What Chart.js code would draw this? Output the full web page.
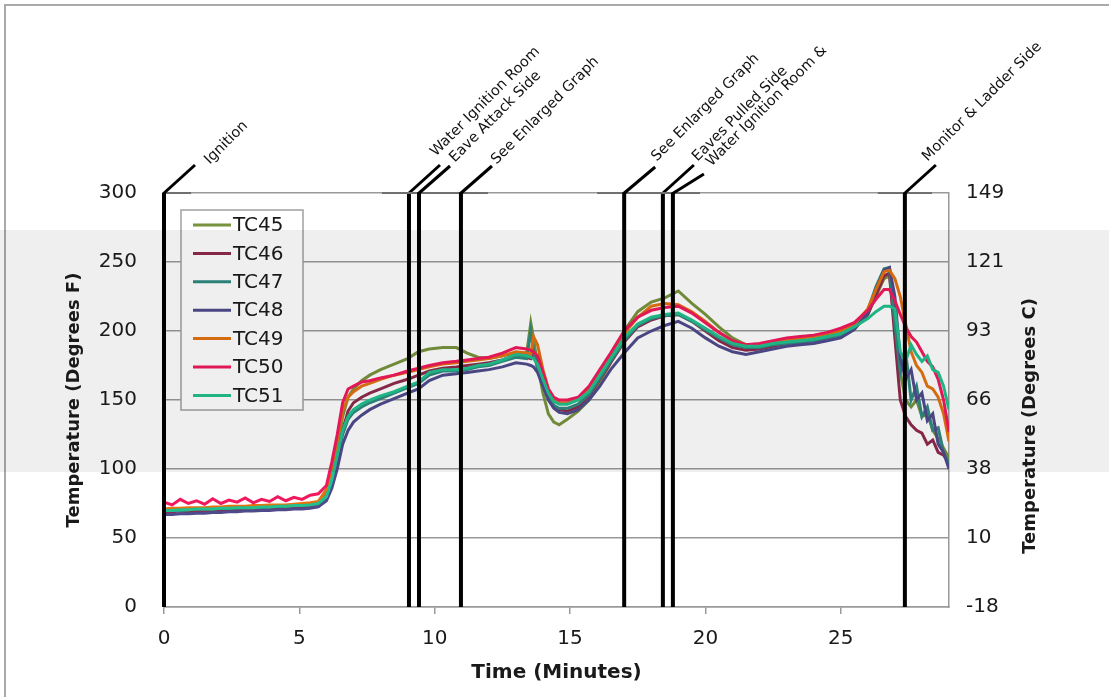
<!DOCTYPE html>
<html><head><meta charset="utf-8">
<script src="https://cdn.jsdelivr.net/npm/chart.js@4.4.0/dist/chart.umd.min.js"></script>
<style>html,body{margin:0;padding:0;background:#fff;overflow:hidden}#wrap{width:1109px;height:697px;position:relative}</style>
</head><body><div id="wrap"><canvas id="c" width="1109" height="697"></canvas></div>
<script>
// ---- data ----
const minutes = [
  0,0.3,0.6,0.9,1.2,1.5,1.8,2.1,2.4,2.7,3.0,3.3,3.6,3.9,4.2,4.5,4.8,5.1,5.4,5.7,
  6.0,6.2,6.4,6.6,6.8,7.0,7.3,7.6,8.0,8.5,
  9.0,9.4,9.8,10.3,10.8,11.2,11.6,12.0,12.5,13.0,
  13.4,13.55,13.65,13.8,14.0,14.2,14.4,14.6,14.9,15.3,
  15.7,16.1,16.5,17.0,17.5,18.0,18.5,19.0,19.5,20.0,
  20.5,21.0,21.5,22.0,22.5,23.0,23.5,24.0,24.5,25.0,
  25.5,26.0,26.3,26.6,26.8,27.0,27.2,27.4,27.6,27.8,
  28.0,28.2,28.4,28.6,28.8,29.0
];
const tc45 = [
  70,70,70.5,70,71,71,70.5,71,71.5,71,72,72,71.5,72,72.5,72,73,73,73.5,74,
  82,95,115,138,152,158,164,168,172,176,
  180,185,187,188,188,184,181,180,182,184,
  184,206,195,175,155,140,134,132,136,142,
  150,163,177,200,214,221,224,229,220,212,
  203,195,190,189,190,192,193,194,196,198,
  203,212,225,238,240,205,170,150,145,150,
  138,140,128,122,115,108
];
const tc46 = [
  69,69,69.5,69,70,70,69.5,70,70.5,70,71,71,70.5,71,71.5,71,72,72,72.5,73,
  79,90,108,128,142,148,152,155,158,162,
  165,168,171,173,174,175,176,177,179,182,
  181,180,185,175,163,152,146,143,142,145,
  153,165,177,192,203,208,211,212,207,200,
  193,188,186,187,189,191,192,193,195,197,
  202,212,226,240,242,195,150,138,132,128,
  126,118,121,112,110,104
];
const tc47 = [
  70,70,70,70.5,71,71,71,71.5,71.5,72,72,72,72.5,72.5,73,73,73.5,73.5,74,75,
  79,90,107,125,136,141,145,148,151,155,
  159,162,168,171,171,172,174,175,178,181,
  180,200,186,172,162,152,146,144,144,147,
  154,166,178,193,204,209,211,212,207,201,
  195,190,188,188,190,191,192,193,195,197,
  203,215,232,245,246,205,170,185,150,160,
  138,145,128,130,112,104
];
const tc48 = [
  67,67,67.5,67.5,68,68,68.5,68.5,69,69,69.5,69.5,70,70,70.5,70.5,71,71,71.5,72.5,
  77,86,100,118,128,134,139,143,147,151,
  155,158,164,168,169,170,171,172,174,177,
  176,175,174,170,160,150,144,141,140,143,
  150,160,172,184,195,200,204,207,202,195,
  189,185,183,185,187,189,190,191,193,195,
  201,213,230,244,246,225,180,165,172,150,
  155,135,140,118,112,100
];
const tc49 = [
  71,71.5,71.5,72,72,72,72.5,72.5,73,73,73,73.5,73.5,74,74,74,74.5,75,75.5,76.5,
  85,100,120,142,152,156,160,162,165,168,
  170,172,174,176,177,178,179,180,182,185,
  184,183,196,190,172,158,151,148,148,150,
  158,170,182,198,210,218,220,219,214,207,
  199,193,190,190,192,194,195,196,198,200,
  205,216,230,243,244,238,225,205,185,175,
  170,160,158,152,140,120
];
const tc50 = [
  76,74,78,75,77,74.5,78.5,75,77.5,76,79,75.5,78,76.5,80,77,79.5,78,81,82,
  88,105,125,148,158,160,163,164,166,168,
  171,173,175,177,178,179,180,181,184,188,
  187,186,185,182,170,158,152,150,150,152,
  160,172,184,200,210,215,217,218,213,206,
  199,193,190,191,193,195,196,197,199,202,
  206,215,223,230,230,222,212,203,196,192,
  185,178,174,165,150,127
];
const tc51 = [
  70,70,70.5,70.5,71,71,71,71.5,71.5,72,72,72,72.5,72.5,73,73,73.5,73.5,74,75,
  80,92,110,128,138,143,147,150,153,156,
  160,163,170,172,172,173,175,176,179,183,
  182,181,180,176,165,155,149,147,147,150,
  156,168,180,195,205,210,212,213,208,202,
  196,191,189,189,191,192,193,194,196,198,
  203,209,214,218,218,216,185,178,190,183,
  178,182,172,170,160,143
];
const seriesNames = ['TC45','TC46','TC47','TC48','TC49','TC50','TC51'];
const seriesValues = [tc45, tc46, tc47, tc48, tc49, tc50, tc51];
const seriesColors = ['#77933c','#8e2a4c','#2e8a80','#4f4a8c','#e4720f','#f2185c','#22c08e'];
const fTicks = [0, 50, 100, 150, 200, 250, 300];
const xTicks = [0, 5, 10, 15, 20, 25];
const eventTimes = [0, 9.05, 9.42, 10.97, 17.0, 18.43, 18.8, 27.37];
const eventLabels = ['Ignition','Water Ignition Room','Eave Attack Side','See Enlarged Graph','See Enlarged Graph','Eaves Pulled Side','Water Ignition Room &','Monitor & Ladder Side'];

// ---- styling (label nudges in pixels, per event) ----
const labelNudgeX = [7, -12, -3, -3, -6, -4, 0, -16];
const labelNudgeY = [0, -8, -2, 0, -3, -3, 2, -3];
const leaderRise = [28, 28, 27, 27, 26, 28, 19, 28];

const FONT = "'DejaVu Sans', 'Open Sans', sans-serif";
Chart.defaults.font.family = FONT;
Chart.defaults.color = '#1a1a1a';

const bgPlugin = {
  id: 'bg',
  beforeDraw(chart) {
    const ctx = chart.ctx;
    ctx.save();
    ctx.fillStyle = '#fff';
    ctx.fillRect(0, 0, chart.width, chart.height);
    ctx.strokeStyle = '#a9a9a9';
    ctx.lineWidth = 2;
    ctx.beginPath();
    ctx.moveTo(5, chart.height); ctx.lineTo(5, 5); ctx.lineTo(chart.width, 5);
    ctx.stroke();
    ctx.restore();
  }
};

const eventPlugin = {
  id: 'events',
  afterDatasetsDraw(chart) {
    const ctx = chart.ctx, xs = chart.scales.x, ys = chart.scales.y, ca = chart.chartArea;
    const top = ys.getPixelForValue(300), bot = ys.getPixelForValue(0);
    ctx.save();
    eventTimes.forEach((t, i) => {
      const px = xs.getPixelForValue(t);
      const a = Math.max(xs.getPixelForValue(t - 1), ca.left);
      const b = Math.min(xs.getPixelForValue(t + 1), ca.right);
      ctx.strokeStyle = '#707070'; ctx.lineWidth = 2;
      ctx.beginPath(); ctx.moveTo(a, top); ctx.lineTo(b, top); ctx.stroke();
      ctx.strokeStyle = '#000'; ctx.lineWidth = 4;
      ctx.beginPath(); ctx.moveTo(px, bot); ctx.lineTo(px, top); ctx.stroke();
      ctx.lineWidth = 3;
      const rise = leaderRise[i];
      ctx.beginPath(); ctx.moveTo(px - 1, top + 1); ctx.lineTo(px + 31, top - rise); ctx.stroke();
      ctx.save();
      ctx.translate(px + 36 + labelNudgeX[i], top - 31 + labelNudgeY[i]);
      ctx.rotate(-Math.PI / 4);
      ctx.font = "14.5px " + FONT;
      ctx.fillStyle = '#111';
      ctx.textAlign = 'left'; ctx.textBaseline = 'middle';
      ctx.fillText(eventLabels[i], 0, 0);
      ctx.restore();
    });
    ctx.restore();
  }
};

const legendPlugin = {
  id: 'boxLegend',
  afterDraw(chart) {
    const ctx = chart.ctx;
    const L = 181, T = 210, W = 122, H = 200;
    ctx.save();
    ctx.fillStyle = '#fff';
    ctx.fillRect(L, T, W, H);
    ctx.strokeStyle = '#a0a0a0'; ctx.lineWidth = 1.5;
    ctx.strokeRect(L, T, W, H);
    ctx.font = "20px " + FONT;
    ctx.textBaseline = 'middle'; ctx.textAlign = 'left';
    seriesNames.forEach((n, i) => {
      const yy = T + 15 + i * 28.4;
      ctx.strokeStyle = seriesColors[i]; ctx.lineWidth = 3;
      ctx.beginPath(); ctx.moveTo(L + 12, yy); ctx.lineTo(L + 50, yy); ctx.stroke();
      ctx.fillStyle = '#1a1a1a';
      ctx.fillText(n, L + 52, yy + 1);
    });
    ctx.restore();
  }
};

const overlayPlugin = {
  id: 'overlay',
  afterDraw(chart) {
    const ctx = chart.ctx;
    ctx.save();
    ctx.translate(1030, 426);
    ctx.rotate(-Math.PI / 2);
    ctx.font = "bold 18px " + FONT;
    ctx.fillStyle = '#1a1a1a';
    ctx.textAlign = 'center'; ctx.textBaseline = 'middle';
    ctx.fillText('Temperature (Degrees C)', 0, 0);
    ctx.restore();
    ctx.save();
    ctx.globalCompositeOperation = 'multiply';
    ctx.fillStyle = '#efefef';
    ctx.fillRect(0, 230, chart.width, 242);
    ctx.restore();
  }
};

const datasets = seriesNames.map((n, i) => ({
  label: n,
  data: minutes.map((m, k) => ({ x: m, y: seriesValues[i][k] })),
  borderColor: seriesColors[i],
  backgroundColor: seriesColors[i],
  borderWidth: 3,
  pointRadius: 0,
  tension: 0,
  fill: false,
  order: seriesNames.length - i
}));

new Chart(document.getElementById('c'), {
  type: 'line',
  data: { datasets },
  options: {
    responsive: false,
    devicePixelRatio: 1,
    animation: false,
    layout: { padding: { top: 193, left: 0, right: 0, bottom: 0 } },
    plugins: { legend: { display: false }, tooltip: { enabled: false } },
    scales: {
      x: {
        type: 'linear', position: 'bottom', min: 0, max: 29,
        afterBuildTicks: s => { s.ticks = xTicks.map(v => ({ value: v })); },
        afterFit: s => { s.height = 90; },
        ticks: { font: { size: 20 }, color: '#1a1a1a', padding: 13, maxRotation: 0 },
        grid: { drawOnChartArea: false, drawTicks: true, tickLength: 7, color: '#999', lineWidth: 1.5 },
        border: { color: '#999', width: 1.5 },
        title: { display: true, text: 'Time (Minutes)', font: { size: 20, weight: 'bold' }, color: '#1a1a1a', padding: { top: 0, bottom: 12 } }
      },
      y: {
        type: 'linear', position: 'left', min: 0, max: 300,
        afterBuildTicks: s => { s.ticks = fTicks.map(v => ({ value: v })); },
        afterFit: s => { s.width = 164; },
        ticks: { font: { size: 20 }, color: '#1a1a1a', padding: 27 },
        grid: { color: '#999', lineWidth: 1.5, drawTicks: false },
        border: { color: '#999', width: 1.5 },
        title: { display: true, text: 'Temperature (Degrees F)', font: { size: 18, weight: 'bold' }, color: '#1a1a1a', padding: { top: 64, bottom: 0 } }
      },
      y2: {
        type: 'linear', position: 'right', min: 0, max: 300,
        afterBuildTicks: s => { s.ticks = fTicks.map(v => ({ value: v })); },
        afterFit: s => { s.width = 160; },
        ticks: { font: { size: 20 }, color: '#1a1a1a', padding: 17, callback: v => String(Math.round((v - 32) * 5 / 9)) },
        grid: { drawOnChartArea: false, drawTicks: false },
        border: { color: '#999', width: 1.5 }
      }
    }
  },
  plugins: [bgPlugin, eventPlugin, legendPlugin, overlayPlugin]
});
</script></body></html>
